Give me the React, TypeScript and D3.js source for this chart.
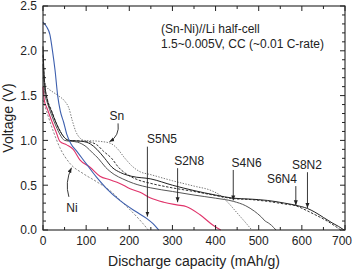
import React from 'react';
import * as d3 from 'd3';

const xTicks = [0, 100, 200, 300, 400, 500, 600, 700];
const yTicks = [0, 0.5, 1.0, 1.5, 2.0, 2.5];

const capS8N2 = [0, 1, 3, 6, 10, 20, 30, 40, 50, 60, 90, 110, 125, 143, 160, 180, 205, 250, 300, 350, 400, 441, 480, 520, 560, 600, 613, 630, 650, 670, 685, 698];
const vS8N2 = [2.05, 1.9, 1.7, 1.55, 1.45, 1.32, 1.2, 1.1, 1.03, 1.0, 0.99, 0.96, 0.9, 0.8, 0.7, 0.64, 0.6, 0.57, 0.5, 0.44, 0.39, 0.355, 0.345, 0.33, 0.3, 0.26, 0.24, 0.2, 0.14, 0.08, 0.04, 0];

const capS6N4 = [0, 2, 5, 10, 20, 30, 40, 50, 60, 100, 125, 140, 159, 175, 195, 220, 250, 300, 350, 400, 441, 480, 520, 560, 586, 610, 635, 655, 675, 690];
const vS6N4 = [1.95, 1.75, 1.58, 1.46, 1.33, 1.2, 1.1, 1.03, 1.0, 0.99, 0.95, 0.88, 0.8, 0.7, 0.62, 0.56, 0.52, 0.47, 0.43, 0.385, 0.35, 0.34, 0.32, 0.29, 0.27, 0.22, 0.16, 0.11, 0.05, 0];

const capS4N6 = [0, 2, 5, 10, 20, 30, 40, 50, 80, 100, 115, 128, 145, 165, 185, 210, 250, 300, 350, 400, 441, 470, 490, 505, 515, 522, 530, 540];
const vS4N6 = [1.85, 1.65, 1.5, 1.42, 1.28, 1.16, 1.06, 1.0, 0.98, 0.93, 0.86, 0.8, 0.7, 0.62, 0.57, 0.52, 0.47, 0.43, 0.39, 0.355, 0.32, 0.27, 0.21, 0.15, 0.1, 0.08, 0.05, 0];

const capSn = [0, 8, 20, 35, 50, 60, 68, 76, 85, 95, 130, 155, 170, 190, 205, 225, 248, 300, 350, 390, 410, 430, 450, 470, 484];
const vSn = [1.7, 1.6, 1.55, 1.5, 1.44, 1.36, 1.22, 1.1, 1.03, 1.0, 0.99, 0.97, 0.92, 0.8, 0.72, 0.65, 0.62, 0.55, 0.49, 0.44, 0.39, 0.3, 0.19, 0.08, 0];

const capS5N5 = [0, 8, 16, 22, 28, 34, 40, 48, 55, 65, 78, 100, 124, 148, 178, 217, 240, 255, 268];
const vS5N5 = [2.32, 2.27, 2.18, 2.0, 1.78, 1.5, 1.33, 1.2, 1.07, 0.96, 0.88, 0.74, 0.59, 0.46, 0.33, 0.2, 0.13, 0.07, 0];

const capS2N8 = [0, 3, 10, 20, 30, 39, 55, 70, 86, 109, 132, 155, 178, 202, 225, 248, 280, 310, 333, 364, 395, 412];
const vS2N8 = [1.6, 1.45, 1.35, 1.22, 1.1, 0.99, 0.95, 0.9, 0.78, 0.7, 0.6, 0.56, 0.52, 0.46, 0.42, 0.36, 0.31, 0.28, 0.26, 0.17, 0.05, 0];

const capNi = [0, 10, 24, 39, 63, 93, 124, 155, 186, 217, 232, 244];
const vNi = [1.45, 1.3, 1.1, 0.92, 0.74, 0.63, 0.54, 0.44, 0.3, 0.15, 0.07, 0];

// straight-arrow labels: name, label x, label V, arrow x, arrow start V, arrow tip V
const labelNames = ['S5N5', 'S2N8', 'S4N6', 'S6N4', 'S8N2'];
const labelCap = [241, 304, 437, 519, 577];
const labelV = [0.97, 0.725, 0.703, 0.525, 0.68];
const arrowCap = [242, 312, 441, 586, 613];
const arrowFromV = [0.93, 0.69, 0.67, 0.49, 0.645];
const arrowToV = [0.15, 0.31, 0.33, 0.275, 0.245];

const series = [
  { cap: capNi, v: vNi, color: '#7a7a7a', dash: '2.2,1.6', w: 0.9 },
  { cap: capSn, v: vSn, color: '#6a6a6a', dash: '1.4,1.4', w: 0.9 },
  { cap: capS4N6, v: vS4N6, color: '#555', dash: null, w: 1 },
  { cap: capS6N4, v: vS6N4, color: '#333', dash: '2.5,1.5', w: 1 },
  { cap: capS8N2, v: vS8N2, color: '#222', dash: null, w: 1 },
  { cap: capS2N8, v: vS2N8, color: '#e0336a', dash: null, w: 1.1 },
  { cap: capS5N5, v: vS5N5, color: '#3d5fae', dash: null, w: 1.1 },
];

const FONT = 'Liberation Sans, Arial, Helvetica, sans-serif';

export default function App() {
  const W = 353, H = 270;
  const x = d3.scaleLinear().domain([0, 700]).range([43, 345]);
  const y = d3.scaleLinear().domain([0, 2.5]).range([230, 6]);
  const line = d3.line<[number, number]>().x(d => x(d[0])).y(d => y(d[1])).curve(d3.curveMonotoneX);

  const [x0, x1] = x.range();
  const [y0, y1] = y.range();

  const xMinor = d3.range(0, 701, 50);
  const yMinor = d3.range(0, 26, 1).map(i => i / 10);

  const snPath = `M${x(174)},${y(1.19)} Q${x(178)},${y(1.05)} ${x(154)},${y(0.985)}`;
  const niPath = `M${x(60)},${y(0.37)} Q${x(50)},${y(0.53)} ${x(66)},${y(0.695)}`;

  return (
    <svg width={W} height={H} style={{ position: 'absolute', left: 0, top: 0, background: '#fff' }} fontFamily={FONT}>
      <defs>
        <marker id="ah" viewBox="0 0 10 10" refX="10" refY="5" markerWidth="5" markerHeight="5" orient="auto" markerUnits="userSpaceOnUse">
          <path d="M0,1 L10,5 L0,9 Z" fill="#222" />
        </marker>
      </defs>
      <rect x={0} y={0} width={W} height={H} fill="#fff" />
      {/* curves */}
      <g fill="none">
        {series.map((s, i) => (
          <path key={i} d={line(s.cap.map((c, j) => [c, s.v[j]]) as [number, number][]) || ''}
            stroke={s.color} strokeWidth={s.w} strokeDasharray={s.dash || undefined} />
        ))}
      </g>
      {/* frame */}
      <rect x={x0} y={y1} width={x1 - x0} height={y0 - y1} fill="none" stroke="#222" strokeWidth={1.1} />
      {/* x ticks */}
      {xMinor.map(v => {
        const major = v % 100 === 0;
        const L = major ? 5 : 3;
        return (
          <g key={'xt' + v} stroke="#222" strokeWidth={1}>
            <line x1={x(v)} x2={x(v)} y1={y0} y2={y0 - L} />
            <line x1={x(v)} x2={x(v)} y1={y1} y2={y1 + L} />
          </g>
        );
      })}
      {yMinor.map(v => {
        const major = Math.round(v * 10) % 5 === 0;
        const L = major ? 5 : 3;
        return (
          <g key={'yt' + v} stroke="#222" strokeWidth={1}>
            <line x1={x0} x2={x0 + L} y1={y(v)} y2={y(v)} />
            <line x1={x1} x2={x1 - L} y1={y(v)} y2={y(v)} />
          </g>
        );
      })}
      {/* tick labels */}
      {xTicks.map(v => (
        <text key={'xl' + v} x={v === 700 ? x(v) - 3 : x(v)} y={245} textAnchor="middle" fontSize={12} fill="#222">{v}</text>
      ))}
      {yTicks.map(v => (
        <text key={'yl' + v} x={37} y={y(v) + 4.3} textAnchor="end" fontSize={12} fill="#222">{v.toFixed(1)}</text>
      ))}
      {/* axis titles */}
      <text x={(x0 + x1) / 2} y={266} textAnchor="middle" fontSize={14} fill="#222">Discharge capacity (mAh/g)</text>
      <text transform={`translate(13,118) rotate(-90)`} textAnchor="middle" fontSize={14} fill="#222">Voltage (V)</text>
      {/* header */}
      <text x={161} y={33} fontSize={12} fill="#222">(Sn-Ni)//Li half-cell</text>
      <text x={161} y={48} fontSize={12} fill="#222">1.5~0.005V, CC (~0.01 C-rate)</text>
      {/* labels with straight arrows */}
      {labelNames.map((n, i) => (
        <g key={n}>
          <text x={x(labelCap[i])} y={y(labelV[i])} fontSize={12} fill="#222">{n}</text>
          <line x1={x(arrowCap[i])} x2={x(arrowCap[i])} y1={y(arrowFromV[i])} y2={y(arrowToV[i])}
            stroke="#222" strokeWidth={0.9} markerEnd="url(#ah)" />
        </g>
      ))}
      {/* curved arrows */}
      <text x={x(171)} y={y(1.23)} textAnchor="middle" fontSize={12} fill="#222">Sn</text>
      <path d={snPath} fill="none" stroke="#222" strokeWidth={0.9} markerEnd="url(#ah)" />
      <text x={x(67)} y={y(0.2)} textAnchor="middle" fontSize={12} fill="#222">Ni</text>
      <path d={niPath} fill="none" stroke="#222" strokeWidth={0.9} markerEnd="url(#ah)" />
    </svg>
  );
}
